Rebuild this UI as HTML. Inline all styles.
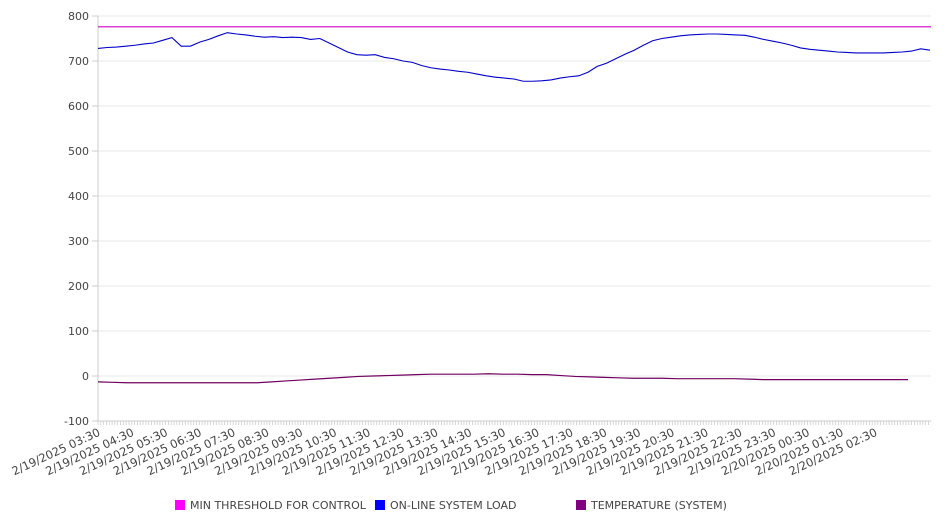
<!DOCTYPE html>
<html><head><meta charset="utf-8"><style>
html,body{margin:0;padding:0;background:#fff;}
svg{display:block;font-family:"DejaVu Sans","Liberation Sans",sans-serif;}
</style></head><body>
<svg id="chart" width="946" height="526" xmlns="http://www.w3.org/2000/svg">
<g id="grid"></g>
<g id="yaxis"></g>
<g id="xaxis"></g>
<g id="series"></g>
<g id="legend">
  <rect x="175" y="500" width="10" height="10" fill="#ff00ff"/>
  <text x="190" y="509" font-size="11" fill="#444">MIN THRESHOLD FOR CONTROL</text>
  <rect x="375" y="500" width="10" height="10" fill="#0000ff"/>
  <text x="390" y="509" font-size="11" fill="#444">ON-LINE SYSTEM LOAD</text>
  <rect x="576" y="500" width="10" height="10" fill="#800080"/>
  <text x="591" y="509" font-size="11" fill="#444">TEMPERATURE (SYSTEM)</text>
</g>
</svg>
<script>
const yTicks = [800,700,600,500,400,300,200,100,0,-100];
const xLabels = ["2/19/2025 03:30","2/19/2025 04:30","2/19/2025 05:30","2/19/2025 06:30","2/19/2025 07:30","2/19/2025 08:30","2/19/2025 09:30","2/19/2025 10:30","2/19/2025 11:30","2/19/2025 12:30","2/19/2025 13:30","2/19/2025 14:30","2/19/2025 15:30","2/19/2025 16:30","2/19/2025 17:30","2/19/2025 18:30","2/19/2025 19:30","2/19/2025 20:30","2/19/2025 21:30","2/19/2025 22:30","2/19/2025 23:30","2/20/2025 00:30","2/20/2025 01:30","2/20/2025 02:30"];
const threshold = 776;
const loadValues = [728,730,731,733,735,738,740,746,752,733,733,742,748,756,763,760,758,755,753,754,752,753,752,748,750,740,730,720,714,713,714,708,705,700,697,690,685,682,680,677,675,671,667,664,662,660,655,655,656,658,662,665,667,675,688,695,705,715,724,735,745,750,753,756,758,759,760,760,759,758,757,753,748,744,740,735,729,726,724,722,720,719,718,718,718,718,719,720,722,727,724];
const tempValues = [-13,-14,-15,-15,-15,-15,-15,-15,-15,-15,-15,-15,-13,-11,-9,-7,-5,-3,-1,0,1,2,3,4,4,4,4,5,4,4,3,3,1,-1,-2,-3,-4,-5,-5,-5,-6,-6,-6,-6,-6,-7,-8,-8,-8,-8,-8,-8,-8,-8,-8,-8,-8];

const X0=98, X1=931, Y0=16, Y1=421, VMAX=800, VMIN=-100;
const TEND=908;
const yScale = v => Y0 + (VMAX - v) / (VMAX - VMIN) * (Y1 - Y0);
const xIdx = (i,n,end) => X0 + i/(n-1) * (end - X0);
const NS="http://www.w3.org/2000/svg";
function mk(tag, attrs, parent){const e=document.createElementNS(NS,tag);for(const k in attrs)e.setAttribute(k,attrs[k]);parent.appendChild(e);return e;}

const grid=document.getElementById('grid'), ya=document.getElementById('yaxis'), xa=document.getElementById('xaxis'), ser=document.getElementById('series');
yTicks.forEach(v=>{
  const y=yScale(v);
  if(v!==VMIN){const l=mk('line',{x1:X0,x2:X1,y1:y,y2:y,stroke:'#e8e8e8','stroke-width':1},grid);
  
  }
  const t=mk('text',{x:89,y:y+4,'font-size':11,fill:'#444','text-anchor':'end'},ya);
  t.textContent=v;
  
  
  const tk=mk('line',{x1:92,x2:98,y1:y,y2:y,stroke:'#ccc'},ya);
  
  
});
const ax=mk('line',{x1:X0,x2:X0,y1:Y0,y2:Y1,stroke:'#ccc'},ya);


const bx=mk('line',{x1:X0,x2:X1,y1:Y1,y2:Y1,stroke:'#ccc'},xa);


const step=(875-98)/23;
for(let x=X0;x<=X1;x+=step/12){
  const m=mk('line',{x1:x,x2:x,y1:Y1,y2:Y1+4,stroke:'#ccc','stroke-width':0.8},xa);
  
  
}
xLabels.forEach((s,i)=>{
  const x=X0+i*step;
  const t=mk('text',{x:0,y:0,'font-size':11.5,fill:'#444','text-anchor':'end',transform:`translate(${x+3},${Y1+14}) rotate(-25)`},xa);
  t.textContent=s;
  
  
});
const th=mk('line',{x1:X0,x2:X1,y1:yScale(threshold),y2:yScale(threshold),stroke:'#cc00cc','stroke-width':1.2},ser);


const lp=mk('polyline',{points:loadValues.map((v,i)=>xIdx(i,loadValues.length,X1-1)+','+yScale(v)).join(' '),fill:'none',stroke:'#0000c8','stroke-width':1.1},ser);


const tp=mk('polyline',{points:tempValues.map((v,i)=>xIdx(i,tempValues.length,TEND)+','+yScale(v)).join(' '),fill:'none',stroke:'#700060','stroke-width':1.2},ser);


</script>
</body></html>
